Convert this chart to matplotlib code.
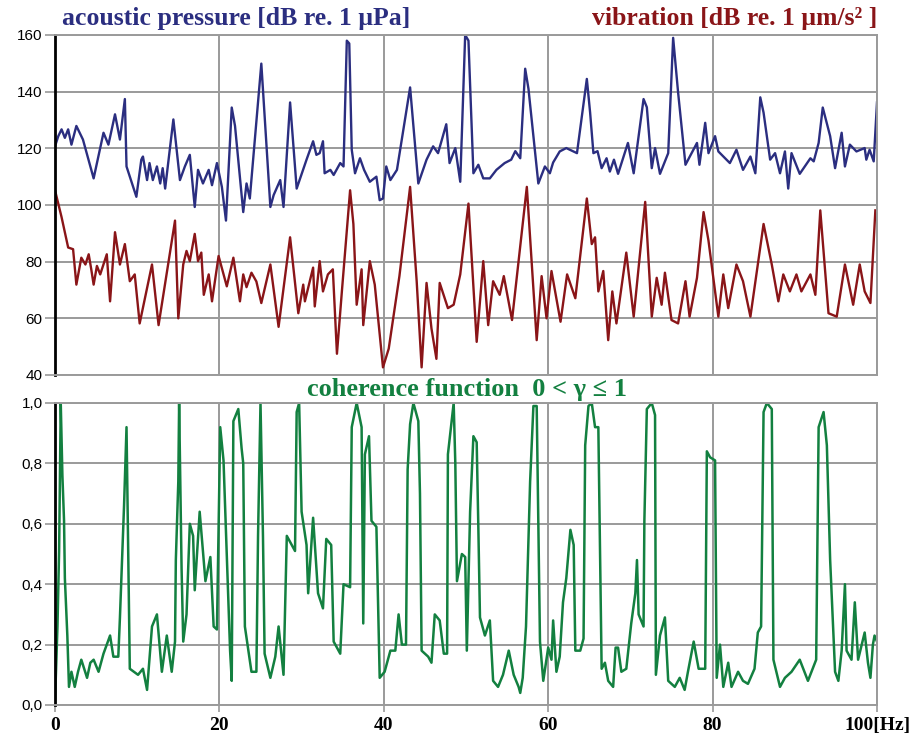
import matplotlib
matplotlib.use("Agg")
import matplotlib.pyplot as plt
import numpy as np

# ---------------- data ----------------
p_freq = [0, 0.4, 0.8, 1.2, 1.6, 2.0, 2.6, 3.4, 4.7, 5.1, 5.9, 6.5, 7.3, 7.9, 8.5, 8.7, 9.9, 10.5, 10.7,
          11.2, 11.5, 11.9, 12.4, 12.8, 13.1, 13.4, 14.4, 15.2, 15.8, 16.4, 17.0, 17.4, 18.0, 18.7, 19.1,
          19.7, 20.3, 20.8, 21.5, 21.9, 22.9, 23.3, 23.7, 25.1, 26.2, 26.6, 27.4, 27.8, 28.6, 29.4, 30.6,
          31.4, 31.8, 32.2, 32.6, 32.8, 33.5, 33.9, 34.7, 35.1, 35.5, 35.8, 36.1, 36.5, 37.1, 37.6, 38.3,
          39.1, 39.5, 39.9, 40.3, 40.8, 41.6, 43.2, 44.2, 45.2, 46.0, 46.6, 47.6, 48.0, 48.7, 49.3, 49.9,
          50.3, 50.9, 51.5, 52.1, 52.9, 53.7, 54.7, 55.5, 56.0, 56.6, 57.2, 57.6, 58.8, 59.6, 60.2, 60.6,
          61.4, 62.2, 63.5, 64.7, 65.1, 65.5, 66.0, 66.5, 67.1, 67.5, 68.0, 68.5, 69.7, 70.4, 71.6, 72.0,
          72.6, 73.0, 73.6, 74.6, 75.2, 75.8, 76.7, 78.1, 78.4, 79.1, 79.5, 80.3, 80.7, 82.1, 82.9, 83.7,
          84.6, 85.2, 85.8, 86.2, 87.0, 87.6, 88.2, 88.8, 89.2, 89.6, 90.6, 91.9, 92.3, 92.9, 93.4, 94.3,
          94.9, 95.7, 96.1, 96.7, 97.5, 98.5, 98.7, 99.1, 99.6, 100]
p_db = [120.7, 124.3, 126.7, 123.7, 126.7, 121.3, 127.9, 123.1, 109.4, 114.8, 125.5, 121.3, 132.0, 123.1,
        137.4, 113.6, 102.9, 116, 117.1, 108.8, 114.8, 108.8, 113.6, 107.6, 113.0, 105.8, 130.2, 108.8,
        113.6, 117.7, 99.3, 112.4, 107.6, 112.4, 107.0, 114.8, 106.4, 94.5, 134.4, 127.9, 97.5, 107.6,
        102.3, 149.9, 99.3, 103.5, 108.8, 99.3, 136.2, 105.8, 116, 122.5, 117.7, 118.3, 122.5, 111.2,
        112.4, 110.6, 114.8, 113.6, 158, 157, 119.5, 111.2, 116.5, 112.4, 108.2, 110, 101.7, 102.3,
        113.6, 108.8, 112.4, 141.5, 107.6, 116, 120.7, 118.3, 128.5, 114.8, 120.1, 108.2, 160, 158,
        111.2, 114.2, 109.4, 109.4, 112.4, 114.8, 116, 119, 116.5, 148.1, 141, 107.6, 113.6, 111.2, 115,
        118.9, 120.1, 118.3, 144.5, 132.6, 118.3, 119, 113, 116.5, 111.8, 116, 111, 121.9, 111.2, 137.4,
        134.5, 113, 120.1, 111, 118.3, 159, 139.8, 114.2, 121.9, 114.2, 129, 118.3, 124.3, 118.9, 114.8,
        119.5, 112.4, 117.1, 111.2, 138, 132.6, 116, 118.3, 111.2, 118.9, 105.8, 118.3, 111, 116.5,
        115.4, 121.9, 134.4, 124.3, 113, 125.5, 113.6, 121.3, 118.9, 120.1, 116, 119.5, 115.4, 136.2]

v_freq = [0, 0.8, 1.6, 2.2, 2.6, 3.2, 3.7, 4.1, 4.4, 4.7, 5.1, 5.5, 6.3, 6.7, 7.3, 7.9, 8.5, 9.1, 9.7, 10.3,
          11.8, 12.6, 14.6, 15.0, 15.6, 16.0, 16.4, 17.0, 17.4, 17.8, 18.1, 18.7, 19.1, 19.9, 20.9, 21.7,
          22.5, 22.9, 23.3, 23.9, 24.5, 25.1, 26.2, 27.2, 28.6, 29.6, 30.2, 30.4, 31.4, 31.6, 32.2, 32.6,
          33.2, 33.8, 34.3, 34.9, 35.9, 36.3, 36.7, 37.3, 37.5, 38.3, 38.9, 39.9, 40.6, 41.9, 43.2, 44.0,
          44.6, 45.2, 45.8, 46.4, 46.8, 47.8, 48.5, 49.3, 50.3, 51.3, 52.1, 52.7, 53.3, 54.1, 54.6, 55.6,
          57.4, 58.6, 59.2, 59.8, 60.4, 61.5, 62.3, 63.3, 64.7, 65.3, 65.7, 66.1, 66.7, 67.3, 67.8, 68.3,
          69.5, 70.4, 71.8, 72.6, 73.2, 73.8, 74.2, 75.0, 75.8, 76.7, 77.2, 78.1, 78.9, 79.5, 80.7, 81.3,
          81.9, 82.9, 83.7, 84.6, 86.2, 87.2, 88.0, 88.6, 89.4, 90.2, 90.8, 91.9, 92.5, 93.1, 94.1, 95.1,
          96.1, 97.1, 97.9, 98.5, 99.2, 99.8]
v_db = [105.2, 95.7, 85, 84.4, 71.9, 81.4, 79, 82.6, 77.5, 71.9, 78.5, 75.5, 82.6, 66, 90.4, 79, 86.2, 73.1,
        75.5, 58.2, 79, 57.6, 94.5, 60, 79, 83.8, 80.2, 89.8, 80.2, 83.2, 68.3, 75.5, 66, 82, 71.3, 81.4,
        66, 75.5, 71, 76.1, 73, 65.4, 79, 57, 88.6, 61.8, 71.9, 66, 77.9, 64.2, 80.2, 69.5, 75.5, 77.3,
        47.5, 69.5, 105.2, 93.3, 64.8, 77.3, 57.6, 80.2, 71.9, 42.7, 49.3, 74.9, 106.4, 73.1, 42.7, 72.5,
        56.4, 45.7, 72.5, 63.6, 64.8, 75.5, 100.5, 51.7, 80.2, 57.6, 73.1, 68.3, 74.9, 59.4, 106.4, 52.3,
        74.9, 60, 76.7, 58.8, 75.5, 67.1, 102.3, 86.2, 88.6, 69.5, 76.7, 52.3, 69.5, 58.2, 83.2, 60.6,
        101.1, 60.6, 74.3, 64.8, 76.1, 59.4, 58.2, 73.1, 60.6, 74.3, 97.5, 87.4, 60.6, 75.5, 63.6, 79,
        73.1, 60.6, 93.3, 79, 66, 75.5, 69.5, 75.5, 69.5, 75.5, 68.3, 98.1, 61.8, 60.6, 79, 64.8, 79,
        69.5, 65.4, 98.1]

c_freq = [0, 0.3, 0.5, 0.7, 0.9, 1.1, 1.2, 1.5, 1.7, 2.0, 2.4, 2.8, 3.2, 3.9, 4.3, 4.7, 5.3, 5.9, 6.7, 7.1,
          7.7, 7.9, 8.4, 8.7, 9.1, 10.1, 10.7, 11.2, 11.8, 12.4, 13.0, 13.6, 14.2, 14.6, 14.7, 15.0, 15.1,
          15.4, 15.6, 16.0, 16.4, 16.8, 17.0, 17.6, 18.3, 18.9, 19.3, 19.7, 19.9, 20.1, 20.5, 21.3, 21.5,
          21.7, 22.3, 22.7, 22.9, 23.1, 23.9, 24.5, 24.7, 25.0, 25.3, 25.5, 26.2, 26.8, 27.2, 27.8, 28.2,
          29.2, 29.4, 29.7, 30.0, 30.6, 30.8, 31.4, 32.0, 32.6, 33.0, 33.6, 33.9, 34.7, 35.1, 35.9, 36.1,
          36.7, 37.3, 37.5, 37.7, 38.2, 38.5, 39.1, 39.5, 40.1, 40.8, 41.4, 41.8, 42.2, 42.7, 42.9, 43.2,
          43.6, 44.2, 44.4, 44.6, 45.4, 45.8, 46.2, 46.8, 47.3, 47.7, 47.8, 48.5, 48.7, 48.9, 49.5, 49.9,
          50.1, 50.5, 50.9, 51.3, 51.5, 51.7, 52.3, 52.9, 53.3, 53.9, 54.5, 55.2, 55.8, 56.4, 56.6, 56.9,
          57.3, 57.8, 58.2, 58.6, 58.8, 59.0, 59.4, 60.0, 60.4, 60.6, 61.0, 61.4, 61.8, 62.2, 62.7, 63.1,
          63.3, 63.9, 64.3, 64.5, 64.9, 65.3, 65.7, 66.1, 66.3, 66.5, 66.9, 67.3, 67.9, 68.2, 68.5, 68.9,
          69.5, 70.1, 70.6, 70.8, 71.0, 71.6, 71.7, 72.0, 72.6, 73.0, 73.1, 73.6, 74.2, 74.6, 75.4, 76.0,
          76.6, 77.0, 77.7, 78.3, 79.1, 79.3, 79.7, 80.3, 80.5, 80.9, 81.3, 81.9, 82.3, 83.1, 83.7, 84.3,
          85.1, 85.5, 85.9, 86.2, 86.6, 87.2, 87.3, 87.4, 88.2, 88.8, 89.6, 90.6, 91.6, 92.6, 92.9, 93.5,
          93.9, 94.3, 94.9, 95.3, 95.7, 96.1, 96.3, 96.9, 97.3, 97.7, 98.5, 98.9, 99.2, 99.5, 99.7, 100]
c_val = [0.01, 0.26, 0.51, 1.0, 0.76, 0.61, 0.42, 0.23, 0.06, 0.11, 0.06, 0.11, 0.15, 0.09, 0.14, 0.15, 0.11,
         0.17, 0.23, 0.16, 0.16, 0.29, 0.66, 0.92, 0.12, 0.10, 0.12, 0.05, 0.26, 0.30, 0.11, 0.23, 0.11,
         0.21, 0.48, 0.74, 1.0, 0.45, 0.21, 0.30, 0.60, 0.56, 0.38, 0.64, 0.41, 0.49, 0.26, 0.25, 0.59,
         0.92, 0.81, 0.18, 0.08, 0.94, 0.98, 0.85, 0.80, 0.26, 0.11, 0.11, 0.56, 1.0, 0.56, 0.17, 0.09,
         0.16, 0.26, 0.10, 0.56, 0.51, 0.97, 1.0, 0.64, 0.53, 0.37, 0.62, 0.37, 0.32, 0.55, 0.53, 0.21,
         0.17, 0.40, 0.39, 0.92, 1.0, 0.92, 0.27, 0.83, 0.89, 0.61, 0.59, 0.09, 0.11, 0.18, 0.18, 0.30,
         0.20, 0.20, 0.78, 0.93, 1.0, 0.94, 0.70, 0.18, 0.16, 0.14, 0.30, 0.28, 0.17, 0.17, 0.83, 1.0,
         0.80, 0.41, 0.50, 0.49, 0.18, 0.64, 0.89, 0.87, 0.59, 0.29, 0.23, 0.28, 0.08, 0.06, 0.10, 0.18,
         0.10, 0.06, 0.04, 0.09, 0.26, 0.74, 0.99, 0.99, 0.60, 0.21, 0.08, 0.19, 0.15, 0.28, 0.11, 0.16,
         0.34, 0.42, 0.58, 0.53, 0.18, 0.18, 0.22, 0.86, 0.99, 1.0, 0.92, 0.92, 0.52, 0.12, 0.14, 0.08,
         0.06, 0.19, 0.19, 0.11, 0.12, 0.27, 0.37, 0.48, 0.30, 0.26, 0.61, 0.98, 1.0, 0.96, 0.10, 0.23,
         0.29, 0.08, 0.06, 0.09, 0.05, 0.11, 0.21, 0.12, 0.12, 0.84, 0.82, 0.81, 0.09, 0.20, 0.06, 0.14,
         0.06, 0.11, 0.08, 0.07, 0.12, 0.24, 0.26, 0.97, 1.0, 0.98, 0.56, 0.15, 0.06, 0.09, 0.11, 0.15,
         0.08, 0.15, 0.92, 0.97, 0.86, 0.48, 0.11, 0.08, 0.18, 0.40, 0.18, 0.15, 0.34, 0.15, 0.24, 0.14,
         0.09, 0.20, 0.23, 0.21]

top_yticks = [40, 60, 80, 100, 120, 140, 160]
bot_yticks = [0.0, 0.2, 0.4, 0.6, 0.8, 1.0]
bot_ylabels = ["0,0", "0,2", "0,4", "0,6", "0,8", "1,0"]
xticks = [0, 20, 40, 60, 80, 100]
xlabels = ["0", "20", "40", "60", "80", "100[Hz]"]

BLUE = "#2b2e80"
RED = "#8a1518"
GREEN = "#138040"
GRID = "#9a9a9a"

W, H = 913, 733
fig = plt.figure(figsize=(W / 100, H / 100), dpi=100)
fig.patch.set_facecolor("white")

def ax_rect(x0, y0, x1, y1):
    return [x0 / W, 1 - y1 / H, (x1 - x0) / W, (y1 - y0) / H]

ax1 = fig.add_axes(ax_rect(55, 35, 877, 375))
ax2 = fig.add_axes(ax_rect(55, 403, 877, 705))

for ax in (ax1, ax2):
    ax.set_xlim(0, 100)
    ax.set_xticks(xticks)
    ax.grid(True, color=GRID, lw=1.4)
    ax.set_axisbelow(True)
    for s in ("top", "right", "bottom"):
        ax.spines[s].set_color(GRID)
        ax.spines[s].set_linewidth(1.4)
    ax.spines["left"].set_color("black")
    ax.spines["left"].set_linewidth(2)
    ax.tick_params(axis="y", direction="out", length=7, width=1.2, color=GRID,
                   labelsize=11, labelcolor="black", pad=2)
    ax.tick_params(axis="x", direction="out", length=5, width=1.2, color=GRID)

ax1.plot(p_freq, p_db, color=BLUE, lw=1.7)
ax1.plot(v_freq, v_db, color=RED, lw=1.7)
ax1.set_ylim(40, 160)
ax1.set_yticks(top_yticks)
ax1.set_yticklabels([str(t) for t in top_yticks], fontfamily="Liberation Sans", fontsize=11)
ax1.set_xticklabels([])
ax1.tick_params(axis="x", length=0)

ax2.plot(c_freq, c_val, color=GREEN, lw=1.8)
ax2.set_ylim(0, 1.0)
ax2.set_yticks(bot_yticks)
ax2.set_yticklabels(bot_ylabels, fontfamily="Liberation Sans", fontsize=11)
ax2.set_xticklabels(xlabels, fontfamily="Liberation Serif", fontweight="bold", fontsize=14)

fig.text(62 / W, 1 - 18 / H, "acoustic pressure [dB re. 1 μPa]", color=BLUE,
         fontfamily="Liberation Serif", fontweight="bold", fontsize=18.5, ha="left", va="center")
fig.text(877 / W, 1 - 18 / H, "vibration [dB re. 1 μm/s² ]", color=RED,
         fontfamily="Liberation Serif", fontweight="bold", fontsize=18.5, ha="right", va="center")
fig.text(467 / W, 1 - 389 / H, "coherence function  0 < γ ≤ 1", color=GREEN,
         fontfamily="Liberation Serif", fontweight="bold", fontsize=19, ha="center", va="center")

fig.savefig("out.png", dpi=100, facecolor="white")
